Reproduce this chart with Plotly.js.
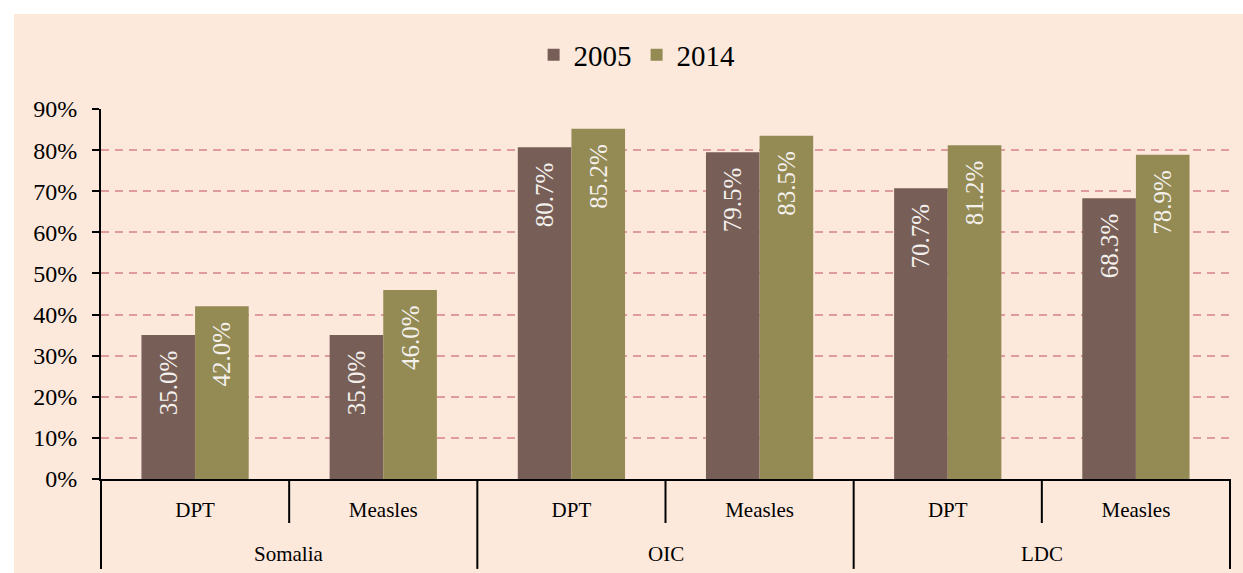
<!DOCTYPE html>
<html>
<head>
<meta charset="utf-8">
<script src="https://cdn.plot.ly/plotly-3.0.1.min.js"></script>
<style>
  html, body { margin: 0; padding: 0; background: #ffffff; }
  #chart { position: absolute; left: 14px; top: 14px; width: 1229px; height: 559px; }
</style>
</head>
<body>
<div id="chart"></div>
<script>
// ---- data ----
const groups = ["Somalia", "Somalia", "OIC", "OIC", "LDC", "LDC"];
const measures = ["DPT", "Measles", "DPT", "Measles", "DPT", "Measles"];
const values2005 = [35.0, 35.0, 80.7, 79.5, 70.7, 68.3];
const values2014 = [42.0, 46.0, 85.2, 83.5, 81.2, 78.9];
const seriesNames = ["2005", "2014"];
const yTickValues = [0, 10, 20, 30, 40, 50, 60, 70, 80, 90];
const yTickLabels = ["0%", "10%", "20%", "30%", "40%", "50%", "60%", "70%", "80%", "90%"];

const colors = ["#775E57", "#938A54"];
const FONT = "Liberation Serif, Times New Roman, serif";

// unique category keys (one per group/measure pair)
const catKeys = groups.map((g, i) => g + " | " + measures[i]);

function labels(vals) { return vals.map(v => v.toFixed(1) + "%\u00a0\u00a0"); }

const traces = [values2005, values2014].map((vals, i) => ({
  type: "bar",
  name: seriesNames[i],
  x: catKeys,
  y: vals,
  marker: { color: colors[i] },
  text: labels(vals),
  textposition: "inside",
  insidetextanchor: "end",
  textangle: -90,
  textfont: { family: FONT, size: 25, color: "#F4F0EC" },
  constraintext: "none",
  hoverinfo: "skip"
}));

// separators below the axis (paper fractions along the plot width)
const nCat = measures.length;
const shapes = [];
for (let k = 0; k <= nCat; k++) {
  const outer = (k === 0 || k === nCat || groups[k] !== groups[k - 1]);
  shapes.push({
    type: "line", xref: "paper", yref: "paper",
    x0: k / nCat, x1: k / nCat, y0: 0, y1: outer ? -0.243 : -0.119,
    line: { color: "#000000", width: 2 }
  });
}

// outer group labels, centred under their categories
const annotations = [];
let start = 0;
for (let i = 1; i <= groups.length; i++) {
  if (i === groups.length || groups[i] !== groups[start]) {
    annotations.push({
      xref: "x", yref: "paper",
      x: (start + i - 1) / 2, y: -0.2027,
      xanchor: "center", yanchor: "middle",
      text: groups[start], showarrow: false,
      font: { family: FONT, size: 21, color: "#000000" }
    });
    start = i;
  }
}

const layout = {
  width: 1229, height: 559,
  margin: { l: 87, r: 13, t: 95, b: 94 },
  paper_bgcolor: "#FDE9DC",
  plot_bgcolor: "#FDE9DC",
  font: { family: FONT, color: "#000000" },
  barmode: "group",
  bargap: 0.43,
  bargroupgap: 0,
  showlegend: true,
  legend: {
    orientation: "h",
    xref: "container", yref: "container",
    x: 0.507, xanchor: "center",
    y: 0.927, yanchor: "middle",
    font: { family: FONT, size: 29, color: "#000000" },
    bgcolor: "rgba(0,0,0,0)",
    itemwidth: 30
  },
  xaxis: {
    type: "category",
    tickvals: catKeys,
    ticktext: measures,
    showline: true, linecolor: "#000000", linewidth: 2,
    ticks: "",
    tickfont: { family: FONT, size: 21, color: "#000000" },
    ticklabelstandoff: 11,
    showgrid: false, zeroline: false
  },
  yaxis: {
    range: [0, 90],
    tickvals: yTickValues,
    ticktext: yTickLabels,
    ticks: "outside", ticklen: 7, tickwidth: 2, tickcolor: "#000000",
    showline: true, linecolor: "#000000", linewidth: 2,
    tickfont: { family: FONT, size: 24, color: "#000000" },
    showgrid: true, gridcolor: "#E09C9C", gridwidth: 2, griddash: "8px,6px",
    zeroline: false,
    ticklabelstandoff: 10
  },
  shapes: shapes,
  annotations: annotations
};

Plotly.newPlot("chart", traces, layout, { displayModeBar: false, staticPlot: true });
</script>
</body>
</html>
